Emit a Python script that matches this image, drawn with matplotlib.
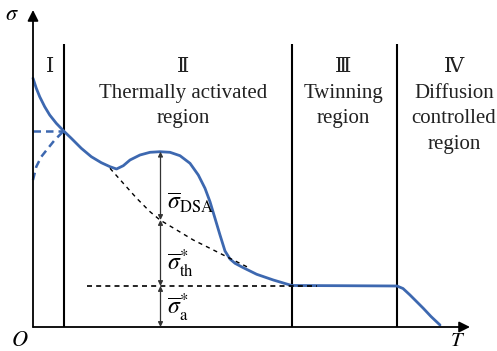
import matplotlib
matplotlib.use("Agg")
import matplotlib.pyplot as plt

plt.rcParams['mathtext.fontset'] = 'stix'
plt.rcParams['font.family'] = ['Liberation Serif', 'DejaVu Serif', 'Noto Sans CJK SC']

# ---- data (T, sigma) in schematic units ----
curve_T = [0, 3.3, 6.7, 11.7, 16.7, 23.3, 30.7, 38.3, 48.3, 58.3, 68.3, 77, 83.5, 90.3, 97,
           107, 117, 127, 137, 147, 157, 165.3, 172, 177, 182, 187, 192, 197, 202, 210.3,
           223.7, 240.3, 258.7, 307, 364, 370, 377, 383, 390.3, 398, 407]
curve_S = [248.7, 238.7, 230.3, 220.3, 212, 203.7, 196, 188.7, 178.7, 170.3, 164.3, 160.3, 158, 161.3, 167,
           172, 174.7, 175.3, 174.7, 171.3, 163.7, 152, 138.7, 125.3, 108.7, 92, 76, 68, 63.7, 59.3,
           52.7, 47, 41.5, 41.3, 41, 38.5, 32, 26, 18.7, 10.5, 2]

dash_h_T = [0, 30.7]
dash_h_S = [196, 196]
dash_c_T = [0, 3.3, 8.3, 15, 21.7, 30.7]
dash_c_S = [147, 160.3, 170.3, 178.7, 187, 196]

th_T = [77, 90.3, 103.7, 117, 127, 143.7, 160.3, 177, 193.7, 203.7, 217]
th_S = [158.7, 143.7, 128.7, 115.3, 107, 97, 87, 78.7, 70.3, 65.3, 58.7]

athermal_T = [54, 284]
athermal_S = [41, 41]

boundaries_T = [31, 258.5, 364]
boundary_top = 283

arrow_T = 127.5
arrow_levels = [175.3, 107, 41, 0]

region_numerals = ['Ⅰ', 'Ⅱ', 'Ⅲ', 'Ⅳ']
region_names = ['', 'Thermally activated\nregion', 'Twinning\nregion', 'Diffusion\ncontrolled\nregion']
region_centers = [17, 150, 310, 421]

blue = '#3d68b0'

fig = plt.figure(figsize=(4.97, 3.51), dpi=100)
ax = fig.add_axes([0, 0, 1, 1])
ax.set_xlim(-33, 464)
ax.set_ylim(-24, 327)
ax.axis('off')

# axes arrows
ax.annotate('', xy=(437, 0), xytext=(0, 0),
            arrowprops=dict(arrowstyle='-|>', mutation_scale=16, lw=1.3, color='k',
                            shrinkA=0, shrinkB=0))
ax.annotate('', xy=(0, 317), xytext=(0, 0),
            arrowprops=dict(arrowstyle='-|>', mutation_scale=16, lw=1.3, color='k',
                            shrinkA=0, shrinkB=0))

# boundaries
for bt in boundaries_T:
    ax.plot([bt, bt], [0, boundary_top], color='k', lw=1.5, solid_capstyle='butt')

# curves
ax.plot(curve_T, curve_S, color=blue, lw=2.0, solid_joinstyle='round', solid_capstyle='round')
ax.plot(dash_h_T, dash_h_S, color=blue, lw=1.8, dashes=(3, 2))
ax.plot(dash_c_T, dash_c_S, color=blue, lw=1.8, dashes=(3, 2))
ax.plot(th_T, th_S, color='k', lw=1.0, dashes=(3, 3))
ax.plot(athermal_T, athermal_S, color='k', lw=1.2, dashes=(3, 2.5))

# double arrows
for top, bot in zip(arrow_levels[:-1], arrow_levels[1:]):
    ax.annotate('', xy=(arrow_T, top), xytext=(arrow_T, bot),
                arrowprops=dict(arrowstyle='<|-|>', mutation_scale=7, lw=0.9, color='#333333',
                                shrinkA=0, shrinkB=0))

# stress labels
ax.text(134, 124, r'$\overline{\sigma}_{\mathrm{DSA}}$', fontsize=17, va='center', ha='left')
ax.text(134, 63, r'$\overline{\sigma}^{*}_{\mathrm{th}}$', fontsize=17, va='center', ha='left')
ax.text(134, 19, r'$\overline{\sigma}^{*}_{\mathrm{a}}$', fontsize=17, va='center', ha='left')

# region labels
for num, name, c in zip(region_numerals, region_names, region_centers):
    ax.text(c, 260, num, fontsize=15, ha='center', va='center', color='#222222')
    if name:
        ax.text(c, 243, name, fontsize=15, ha='center', va='top', color='#222222',
                linespacing=1.45)

# axis labels
ax.text(-21, 312, r'$\sigma$', fontsize=16, ha='center', va='center')
ax.text(-13, -14, r'$O$', fontsize=16, ha='center', va='center')
ax.text(425, -14, r'$T$', fontsize=15, ha='center', va='center')

fig.savefig('out.png', dpi=100)
